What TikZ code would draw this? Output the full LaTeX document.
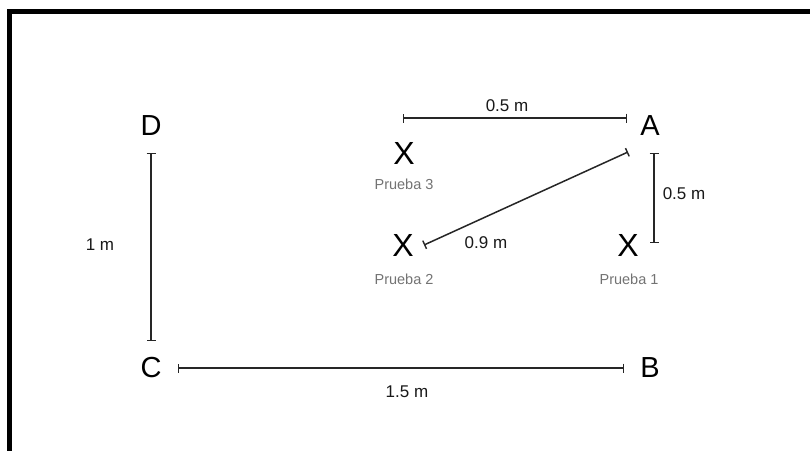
\documentclass[tikz,border=0pt]{standalone}
\usepackage{fontspec}
\setmainfont{Liberation Sans}
\usetikzlibrary{arrows.meta}
\begin{document}
\begin{tikzpicture}[x=1pt,y=-1pt,
  corner/.style={font=\fontsize{29}{29}\selectfont, inner sep=0pt, anchor=center},
  mark x/.style={font=\fontsize{32}{32}\selectfont, inner sep=0pt, anchor=center},
  probe/.style={font=\fontsize{14.5}{14.5}\selectfont, text=black!55, inner sep=0pt, anchor=center},
  dimlabel/.style={font=\fontsize{17}{17}\selectfont, text=black!90, inner sep=0pt, anchor=center},
  dimline/.style={line width=1.5pt, draw=black!85, {Bar[width=9pt,line width=1.4pt]}-{Bar[width=9pt,line width=1.4pt]}},
  frame/.style={line width=5pt, draw=black}]
\useasboundingbox (0,0) rectangle (810,450);
\clip (0,0) rectangle (810,450);
\fill[white] (0,0) rectangle (810,450);
\draw[frame] (9.5,11.5) rectangle (900,520);
% corner labels
\node[corner] (D) at (151,126) {D};
\node[corner] (C) at (151,368) {C};
\node[corner] (A) at (650,126) {A};
\node[corner] (B) at (650,368) {B};
% probes
\node[mark x] (X3) at (404,153) {X};
\node[probe] (P3) at (404,184) {Prueba 3};
\node[mark x] (X2) at (403,245) {X};
\node[probe] (P2) at (404,279) {Prueba 2};
\node[mark x] (X1) at (628,245) {X};
\node[probe] (P1) at (629,279) {Prueba 1};
% dimension end points
\coordinate (dTop) at (151,153);
\coordinate (dBot) at (151,341);
\coordinate (bL) at (178,368);
\coordinate (bR) at (624,368);
\coordinate (tL) at (403,118);
\coordinate (tR) at (627,118);
\coordinate (rT) at (654,153);
\coordinate (rB) at (654,243);
\coordinate (gL) at (424,245);
\coordinate (gR) at (628,152);
% dimension lines
\draw[dimline] (dTop) -- (dBot);
\draw[dimline] (bL) -- (bR);
\draw[dimline] (tL) -- (tR);
\draw[dimline] (rT) -- (rB);
\draw[dimline] (gL) -- (gR);
% dimension labels
\node[dimlabel] (l1) at (100,245) {1 m};
\node[dimlabel] (l15) at (407,392) {1.5 m};
\node[dimlabel] (l05a) at (507,106) {0.5 m};
\node[dimlabel] (l05b) at (684,194) {0.5 m};
\node[dimlabel] (l09) at (486,243) {0.9 m};
\end{tikzpicture}
\end{document}
